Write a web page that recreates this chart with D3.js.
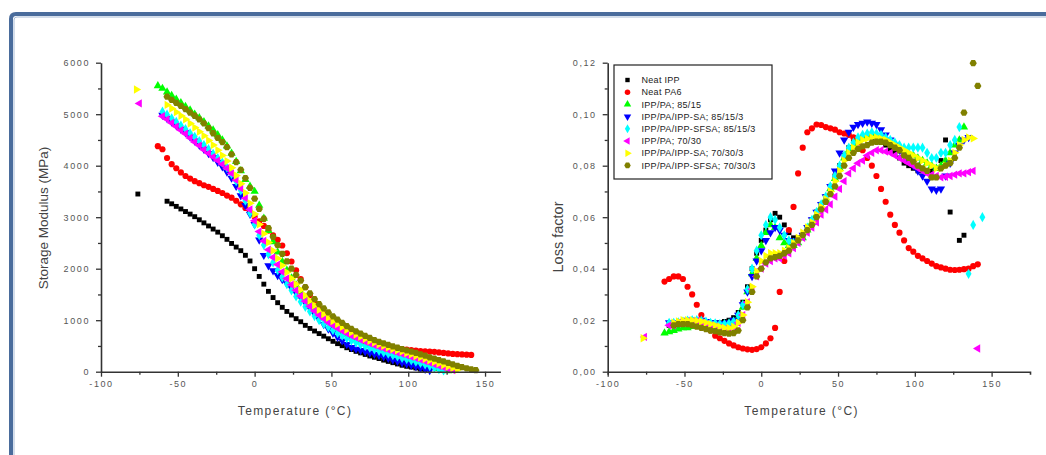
<!DOCTYPE html>
<html>
<head>
<meta charset="utf-8">
<script src="https://cdn.jsdelivr.net/npm/d3@7"></script>
<style>
  body { margin: 0; background: #fff; }
  text { font-family: "Liberation Sans", Arial, sans-serif; }
</style>
</head>
<body>
<svg id="chart" width="1046" height="455"></svg>
<script>
// temperature grid shared by every series (deg C)
const temps = [
  -63, -60, -57, -54, -51, -48, -45, -42, -39, -36,
  -33, -30, -27, -24, -21, -18, -15, -12, -9, -6,
  -3, 0, 3, 6, 9, 12, 15, 18, 21, 24,
  27, 30, 33, 36, 39, 42, 45, 48, 51, 54,
  57, 60, 63, 66, 69, 72, 75, 78, 81, 84,
  87, 90, 93, 96, 99, 102, 105, 108, 111, 114,
  117, 120, 123, 126, 129, 132, 135, 138, 141, 144
];

const seriesNames = [
  "Neat IPP", "Neat PA6", "IPP/PA; 85/15", "IPP/PA/IPP-SA; 85/15/3",
  "IPP/PA/IPP-SFSA; 85/15/3", "IPP/PA; 70/30", "IPP/PA/IPP-SA; 70/30/3",
  "IPP/PA/IPP-SFSA; 70/30/3"
];

// storage modulus (MPa)
const storageIPP = [
  null, null, 3310, 3260, 3210, 3160, 3110, 3060, 3010, 2950,
  2890, 2830, 2770, 2710, 2640, 2570, 2490, 2420, 2350, 2260,
  2150, 2000, 1850, 1700, 1560, 1440, 1340, 1250, 1170, 1100,
  1030, 970, 900, 840, 790, 740, 690, 640, 590, 545,
  505, 465, 430, 395, 365, 335, 305, 280, 255, 225,
  200, 175, 150, 125, 105, 90, 72, 50, 30, null,
  null, null, null, null, null, null, null, null, null, null
];
const storagePA6 = [
  4380, 4320, 4150, 4030, 3950, 3870, 3800, 3750, 3700, 3660,
  3620, 3590, 3550, 3510, 3470, 3420, 3380, 3320, 3250, 3180,
  3100, 3010, 2920, 2830, 2740, 2650, 2560, 2450, 2300, 2140,
  1970, 1800, 1640, 1490, 1350, 1230, 1120, 1030, 950, 880,
  820, 770, 720, 680, 640, 600, 570, 540, 515, 495,
  480, 470, 455, 440, 430, 420, 410, 400, 395, 390,
  385, 375, 365, 355, 345, 340, 335, 330, 325, null
];
const storage85 = [
  5550, 5500, 5430, 5360, 5290, 5220, 5150, 5080, 5000, 4930,
  4850, 4770, 4690, 4600, 4500, 4380, 4240, 4080, 3900, 3730,
  3600, 3500, 3230, 2980, 2740, 2520, 2320, 2140, 1970, 1820,
  1680, 1550, 1430, 1320, 1220, 1130, 1050, 970, 900, 840,
  780, 725, 675, 630, 590, 550, 515, 480, 450, 420,
  390, 360, 330, 300, 270, 240, 210, 180, 150, 120,
  90, 60, 35, 15, null, null, null, null, null, null
];
const storage85SA = [
  null, 4980, 4920, 4850, 4780, 4710, 4640, 4560, 4480, 4400,
  4320, 4240, 4160, 4070, 3980, 3880, 3760, 3600, 3420, 3230,
  3060, 2860, 2560, 2260, 2060, 1960, 1870, 1790, 1710, 1620,
  1530, 1440, 1340, 1230, 1120, 1020, 920, 830, 750, 670,
  600, 530, 470, 440, 415, 390, 365, 340, 315, 290,
  260, 230, 205, 175, 150, 125, 100, 75, 50, 25,
  null, null, null, null, null, null, null, null, null, null
];
const storage85SFSA = [
  null, 5050, 4990, 4920, 4850, 4780, 4710, 4630, 4560, 4480,
  4400, 4320, 4230, 4150, 4060, 3960, 3840, 3700, 3520, 3320,
  3080, 2860, 2650, 2460, 2280, 2120, 1970, 1830, 1700, 1580,
  1460, 1360, 1260, 1170, 1080, 1000, 930, 865, 805, 750,
  700, 650, 605, 565, 530, 495, 465, 435, 405, 375,
  350, 320, 295, 270, 245, 220, 195, 170, 140, 110,
  80, 50, 25, null, null, null, null, null, null, null
];
const storage70 = [
  null, 4960, 4900, 4830, 4760, 4690, 4620, 4540, 4460, 4390,
  4310, 4240, 4170, 4100, 4030, 3950, 3850, 3720, 3560, 3370,
  3150, 2930, 2720, 2540, 2370, 2220, 2080, 1940, 1810, 1690,
  1580, 1470, 1370, 1270, 1180, 1100, 1030, 960, 900, 845,
  795, 745, 700, 660, 620, 585, 550, 515, 485, 455,
  425, 400, 370, 345, 320, 290, 265, 235, 205, 175,
  145, 115, 85, 55, 30, null, null, null, null, null
];
const storage70SA = [
  null, null, 5180, 5110, 5040, 4970, 4900, 4820, 4740, 4660,
  4580, 4490, 4400, 4300, 4200, 4090, 3960, 3810, 3650, 3470,
  3270, 3060, 2860, 2680, 2510, 2350, 2200, 2060, 1930, 1810,
  1700, 1590, 1480, 1380, 1290, 1200, 1120, 1050, 985, 925,
  870, 815, 765, 720, 680, 640, 600, 565, 530, 500,
  470, 440, 415, 390, 360, 335, 305, 280, 250, 220,
  190, 160, 130, 100, 70, 40, null, null, null, null
];
const storage70SFSA = [
  null, null, 5340, 5280, 5220, 5160, 5100, 5030, 4970, 4900,
  4820, 4730, 4630, 4540, 4460, 4360, 4220, 4070, 3920, 3760,
  3570, 3360, 3160, 2970, 2790, 2620, 2460, 2290, 2140, 2000,
  1880, 1770, 1640, 1520, 1410, 1310, 1230, 1150, 1075, 1010,
  950, 885, 830, 785, 740, 695, 655, 615, 580, 550,
  520, 490, 465, 440, 415, 390, 365, 335, 310, 280,
  255, 225, 200, 170, 140, 115, 90, 65, 45, 30
];

// loss factor (tan delta)
const lossIPP = [
  null, 0.018, 0.018, 0.0182, 0.0185, 0.0188, 0.019, 0.019, 0.019, 0.019,
  0.019, 0.019, 0.019, 0.0195, 0.020, 0.021, 0.023, 0.027, 0.033, 0.040,
  0.046, 0.051, 0.055, 0.059, 0.0615, 0.060, 0.057, 0.054, 0.052, 0.052,
  0.053, 0.056, 0.059, 0.062, 0.065, 0.068, 0.072, 0.076, 0.080, 0.084,
  0.087, 0.089, 0.090, 0.091, 0.091, 0.091, 0.090, 0.089, 0.088, 0.086,
  0.085, 0.083, 0.081, 0.080, 0.079, 0.078, 0.078, 0.078, 0.078, 0.079,
  0.082, 0.090, 0.062, null, 0.051, 0.053, null, null, null, null
];
const lossPA6 = [
  0.035, 0.036, 0.037, 0.037, 0.036, 0.033, 0.030, 0.026, 0.022, 0.019,
  0.016, 0.014, 0.013, 0.012, 0.011, 0.0102, 0.0095, 0.009, 0.0087, 0.0085,
  0.0088, 0.0095, 0.011, 0.013, 0.017, 0.031, 0.043, 0.055, 0.064, 0.077,
  0.087, 0.093, 0.0945, 0.096, 0.0958, 0.095, 0.0945, 0.094, 0.093, 0.0925,
  0.092, 0.091, 0.089, 0.086, 0.083, 0.080, 0.076, 0.071, 0.066, 0.061,
  0.057, 0.054, 0.051, 0.048, 0.0466, 0.045, 0.044, 0.043, 0.042, 0.041,
  0.0405, 0.040, 0.0396, 0.0395, 0.0396, 0.0398, 0.040, 0.041, 0.0417, null
];
const loss85 = [
  0.015, 0.0155, 0.016, 0.0165, 0.017, 0.017, 0.0175, 0.0178, 0.018, 0.018,
  0.018, 0.018, 0.018, 0.018, 0.018, 0.019, 0.021, 0.025, 0.031, 0.038,
  0.044, 0.049, 0.054, 0.057, 0.056, 0.052, 0.050, 0.049, 0.049, 0.050,
  0.052, 0.055, 0.058, 0.061, 0.064, 0.067, 0.071, 0.075, 0.079, 0.083,
  0.086, 0.088, 0.090, 0.091, 0.092, 0.092, 0.0915, 0.091, 0.090, 0.089,
  0.088, 0.087, 0.086, 0.085, 0.084, 0.083, 0.082, 0.081, 0.080, 0.079,
  0.080, 0.082, 0.085, 0.088, 0.090, 0.095, null, null, null, null
];
const loss85SA = [
  null, 0.019, 0.0188, 0.019, 0.0195, 0.020, 0.020, 0.020, 0.020, 0.0195,
  0.019, 0.019, 0.0188, 0.0188, 0.019, 0.020, 0.022, 0.026, 0.031, 0.037,
  0.043, 0.047, 0.051, 0.054, 0.056, 0.055, 0.053, 0.051, 0.050, 0.051,
  0.053, 0.056, 0.059, 0.062, 0.065, 0.068, 0.072, 0.078, 0.085, 0.090,
  0.093, 0.095, 0.096, 0.0965, 0.097, 0.0965, 0.096, 0.094, 0.092, 0.090,
  0.088, 0.086, 0.084, 0.082, 0.080, 0.078, 0.076, 0.074, 0.071, 0.0705,
  0.071, 0.076, 0.081, 0.085, 0.088, 0.090, 0.091, null, null, null
];
const loss85SFSA = [
  null, 0.019, 0.019, 0.0192, 0.0195, 0.0198, 0.020, 0.020, 0.0198, 0.0195,
  0.019, 0.0188, 0.0185, 0.0185, 0.0188, 0.0195, 0.022, 0.026, 0.032, 0.040,
  0.047, 0.053, 0.057, 0.060, 0.059, 0.056, 0.053, 0.051, 0.050, 0.051,
  0.053, 0.056, 0.059, 0.062, 0.065, 0.068, 0.072, 0.076, 0.080, 0.084,
  0.087, 0.089, 0.091, 0.092, 0.0925, 0.093, 0.0925, 0.092, 0.091, 0.090,
  0.089, 0.088, 0.087, 0.087, 0.087, 0.087, 0.087, 0.085, 0.083, 0.083,
  0.085, 0.085, 0.088, 0.090, 0.095, null, 0.038, 0.057, null, 0.060
];
const loss70 = [
  null, 0.018, 0.018, 0.019, 0.019, 0.0195, 0.0195, 0.0195, 0.019, 0.0185,
  0.018, 0.0175, 0.017, 0.0165, 0.0165, 0.017, 0.019, 0.022, 0.027, 0.032,
  0.037, 0.040, 0.042, 0.043, 0.044, 0.044, 0.045, 0.046, 0.048, 0.050,
  0.052, 0.054, 0.056, 0.058, 0.061, 0.063, 0.065, 0.068, 0.071, 0.074,
  0.077, 0.079, 0.081, 0.082, 0.084, 0.085, 0.086, 0.086, 0.0855, 0.085,
  0.084, 0.083, 0.082, 0.081, 0.080, 0.079, 0.078, 0.077, 0.0765, 0.076,
  0.0755, 0.0757, 0.076, 0.0765, 0.077, 0.077, 0.0775, 0.078, 0.009, null
];
const loss70SA = [
  null, null, 0.019, 0.0195, 0.020, 0.020, 0.020, 0.0198, 0.0195, 0.019,
  0.0185, 0.018, 0.0175, 0.017, 0.017, 0.0175, 0.019, 0.022, 0.027, 0.033,
  0.039, 0.043, 0.045, 0.046, 0.046, 0.046, 0.047, 0.048, 0.050, 0.052,
  0.054, 0.056, 0.058, 0.061, 0.064, 0.067, 0.070, 0.074, 0.078, 0.082,
  0.085, 0.087, 0.089, 0.090, 0.0905, 0.091, 0.091, 0.0905, 0.090, 0.089,
  0.088, 0.087, 0.086, 0.085, 0.084, 0.083, 0.082, 0.081, 0.080, 0.079,
  0.079, 0.080, 0.082, 0.085, 0.088, 0.090, 0.091, 0.0906, null, null
];
const loss70SFSA = [
  null, null, 0.018, 0.0185, 0.0185, 0.0185, 0.018, 0.0175, 0.017, 0.0165,
  0.016, 0.0158, 0.0153, 0.015, 0.0148, 0.015, 0.016, 0.020, 0.025, 0.031,
  0.037, 0.040, 0.0425, 0.044, 0.0445, 0.045, 0.046, 0.047, 0.049, 0.051,
  0.053, 0.055, 0.057, 0.060, 0.063, 0.066, 0.069, 0.072, 0.076, 0.080,
  0.083, 0.085, 0.0865, 0.0875, 0.088, 0.089, 0.0893, 0.0893, 0.089, 0.088,
  0.087, 0.086, 0.084, 0.083, 0.0816, 0.080, 0.079, 0.078, 0.0755, 0.0755,
  0.079, 0.080, 0.081, 0.083, 0.087, 0.1006, null, 0.1198, 0.111, null
];

// odd single points measured below -70 C: [series index, temperature, value]
const storageExtra = [[0, -76, 3450], [6, -77, 5480], [5, -75, 5210]];
const lossExtra = [[6, -77, 0.013], [5, -76, 0.0135]];

const xMajor = [-100, -50, 0, 50, 100, 150];
const xMinor = [-75, -25, 25, 75, 125];
const storageMajor = [0, 1000, 2000, 3000, 4000, 5000, 6000];
const storageMinor = [500, 1500, 2500, 3500, 4500, 5500];
const lossMajor = [0, 0.02, 0.04, 0.06, 0.08, 0.10, 0.12];
const lossMinor = [0.01, 0.03, 0.05, 0.07, 0.09, 0.11];

const colors = ["#000000", "#ff0000", "#00ff00", "#0000ff", "#00ffff", "#ff00ff", "#ffff00", "#808000"];

// hexagon marker for the last series
const symbolHexagon = {
  draw(context, size) {
    const r = Math.sqrt(size / (1.5 * Math.sqrt(3)));
    for (let i = 0; i < 6; i++) {
      const a = Math.PI / 3 * i;
      if (i === 0) context.moveTo(r * Math.cos(a), r * Math.sin(a));
      else context.lineTo(r * Math.cos(a), r * Math.sin(a));
    }
    context.closePath();
  }
};
// shape, rotation, size for each series
const markers = [
  [d3.symbolSquare, 0, 24],
  [d3.symbolCircle, 0, 30],
  [d3.symbolTriangle, 0, 30],
  [d3.symbolTriangle, 180, 30],
  [d3.symbolDiamond, 0, 30],
  [d3.symbolTriangle, -90, 30],
  [d3.symbolTriangle, 90, 30],
  [symbolHexagon, 0, 34]
];

const svg = d3.select("#chart");

// slide frame: blue border on top and left
svg.append("path")
  .attr("d", "M1060,14 L16,14 Q11,14 11,19 L11,470")
  .attr("fill", "none")
  .attr("stroke", "#4a6c9c")
  .attr("stroke-width", 4);
svg.append("path")
  .attr("d", "M1060,17 L17,17 Q14,17 14,20 L14,470")
  .attr("fill", "none")
  .attr("stroke", "#a9bcd6")
  .attr("stroke-width", 1);

function marker(sel, i, scale) {
  const m = markers[i];
  sel.attr("d", d3.symbol().type(m[0]).size(m[2] * (scale || 1))())
    .attr("fill", colors[i]);
  return m[1];
}

function drawPanel(p) {
  const x = d3.scaleLinear().domain(p.xDomain).range(p.xRange);
  const y = d3.scaleLinear().domain(p.yDomain).range([371.7, 62.7]);
  const g = svg.append("g");

  // Draw the points, one group per series
  p.series.forEach((values, i) => {
    const pts = temps.map((t, k) => [t, values[k]]).filter((d) => d[1] !== null);
    p.extra.filter((e) => e[0] === i).forEach((e) => pts.push([e[1], e[2]]));
    const rot = markers[i][1];
    g.append("g")
      .selectAll("path")
      .data(pts)
      .join("path")
      .each(function () { marker(d3.select(this), i); })
      .attr("transform", (d) => "translate(" + x(d[0]) + "," + y(d[1]) + ") rotate(" + rot + ")");
  });

  // Axes
  const fmtX = (d) => String(d);
  const bottom = g.append("g").attr("transform", "translate(0,371.7)");
  bottom.call(d3.axisBottom(x).tickValues(xMajor).tickFormat(fmtX).tickSize(5).tickSizeOuter(p.outer).tickPadding(4));
  bottom.append("g").call(d3.axisBottom(x).tickValues(xMinor).tickFormat("").tickSize(3).tickSizeOuter(0))
    .select(".domain").remove();

  const left = g.append("g").attr("transform", "translate(" + p.xRange[0] + ",0)");
  left.call(d3.axisLeft(y).tickValues(p.yMajor).tickFormat(p.yFormat).tickSize(5).tickSizeOuter(0).tickPadding(6));
  left.append("g").call(d3.axisLeft(y).tickValues(p.yMinor).tickFormat("").tickSize(3).tickSizeOuter(0))
    .select(".domain").remove();

  g.selectAll(".domain").attr("stroke", "#333").attr("stroke-width", 1.6);
  g.selectAll(".tick line").attr("stroke", "#333").attr("stroke-width", 1.3);
  g.selectAll(".tick text")
    .attr("fill", "#555")
    .attr("font-size", 9)
    .attr("letter-spacing", 1.6)
    .attr("font-family", "'Liberation Sans', Arial, sans-serif");

  // Axis titles
  g.append("text")
    .attr("x", (p.xRange[0] + x(150)) / 2 + 2)
    .attr("y", 415)
    .attr("text-anchor", "middle")
    .attr("font-size", 12)
    .attr("letter-spacing", 1.4)
    .attr("fill", "#444")
    .text("Temperature (°C)");
  g.append("text")
    .attr("transform", "translate(" + p.titleX + "," + p.titleY + ") rotate(-90)")
    .attr("text-anchor", "middle")
    .attr("font-size", p.titleSize)
    .attr("fill", "#444")
    .text(p.title);
  return { x, y, g };
}

drawPanel({
  xDomain: [-100, 160], xRange: [101, 500.4], outer: 0,
  yDomain: [0, 6000], yMajor: storageMajor, yMinor: storageMinor,
  yFormat: (d) => String(d),
  series: [storageIPP, storagePA6, storage85, storage85SA, storage85SFSA, storage70, storage70SA, storage70SFSA],
  extra: storageExtra,
  title: "Storage Modulus (MPa)", titleX: 48, titleY: 218, titleSize: 13.5
});

const right = drawPanel({
  xDomain: [-100, 175], xRange: [607.7, 1030], outer: 3,
  yDomain: [0, 0.12], yMajor: lossMajor, yMinor: lossMinor,
  yFormat: (d) => d3.format(".2f")(d).replace(".", ","),
  series: [lossIPP, lossPA6, loss85, loss85SA, loss85SFSA, loss70, loss70SA, loss70SFSA],
  extra: lossExtra,
  title: "Loss factor", titleX: 563, titleY: 237, titleSize: 14.5
});

// Legend box inside the loss factor panel
const legend = svg.append("g").attr("transform", "translate(614,65)");
legend.append("rect")
  .attr("width", 158).attr("height", 114)
  .attr("fill", "#fff").attr("stroke", "#222").attr("stroke-width", 1.2);
seriesNames.forEach((name, i) => {
  const row = legend.append("g").attr("transform", "translate(0," + (15 + i * 12.2) + ")");
  const rot = markers[i][1];
  row.append("path")
    .each(function () { marker(d3.select(this), i, 0.8); })
    .attr("transform", "translate(13.5,0) rotate(" + rot + ")");
  row.append("text")
    .attr("x", 27.5).attr("y", 3.2)
    .attr("font-size", 9)
    .attr("letter-spacing", 0.3)
    .attr("fill", "#222")
    .text(name);
});
</script>
</body>
</html>
